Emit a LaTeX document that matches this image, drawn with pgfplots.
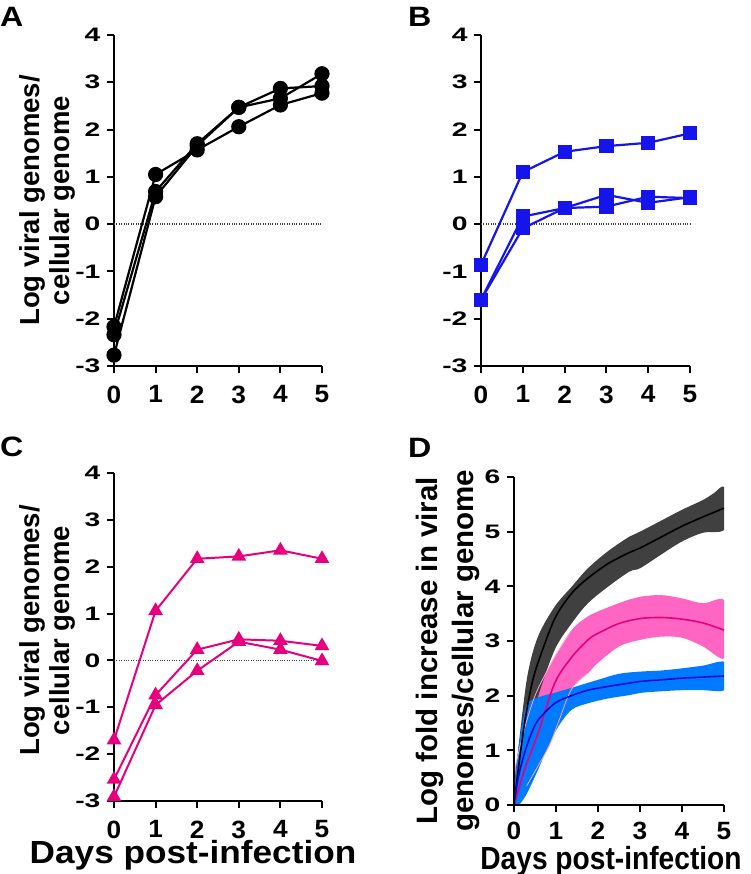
\documentclass[border=0pt]{standalone}
\usepackage{fontspec}
\setmainfont{Liberation Sans}
\newfontfamily\fx{Liberation Sans}[FakeStretch=1.05]
\newfontfamily\fy{Liberation Sans}[FakeStretch=1.45]
\newfontfamily\fl{Liberation Sans}[FakeStretch=1.1]
\newfontfamily\fd{Liberation Sans}[FakeStretch=0.88]
\newfontfamily\fp{Liberation Sans}[FakeStretch=1.15]
\usepackage{pgfplots}
\pgfplotsset{compat=1.18}

\definecolor{bblue}{RGB}{20,20,235}
\definecolor{cpink}{RGB}{230,0,126}
\definecolor{dgray}{RGB}{64,64,64}
\definecolor{dpinkband}{RGB}{255,102,196}
\definecolor{dblueband}{RGB}{0,122,255}
\definecolor{dblue}{RGB}{10,10,215}
\definecolor{pinkedge}{RGB}{255,165,215}

\pgfplotsset{
  panel/.style={
    scale only axis,
    axis lines=left,
    axis line style={-, line width=2pt},
    tick style={black, line width=2pt},
    tick align=outside,
    major tick length=7pt,
    xmin=0, xmax=5, xtick={0,...,5},
    xticklabel style={font=\fx\fontsize{25}{25}\selectfont\bfseries, inner sep=0pt, yshift=-12.5pt},
    yticklabel style={font=\fy\fontsize{19.5}{19.5}\selectfont\bfseries, xshift=-3pt},
    /pgf/number format/assume math mode=true,
    clip=false,
    ylabel style={font=\fontsize{27.5}{30}\selectfont\bfseries, align=center, anchor=center},
    xlabel style={font=\fl\fontsize{32}{32}\selectfont\bfseries, anchor=base, inner sep=0pt},
  },
  zero/.style={dash pattern=on 1pt off 1.4pt, line width=1.3pt, black!75, no marks, forget plot},
  sa/.style={black, line width=2.2pt, mark=*, mark size=6.5pt},
  sb/.style={bblue, line width=2.2pt, mark=square*, mark size=6pt},
  sc/.style={cpink, line width=2pt, mark=triangle*, mark size=6.5pt},
  band/.style={draw=none, smooth, tension=0.55},
}

\begin{document}
\begin{tikzpicture}
\useasboundingbox (0,0) rectangle (750pt,874pt);

% A
\begin{axis}[panel, at={(114pt,508pt)}, anchor=south west,
  width=208pt, height=331pt, ymin=-3, ymax=4, ytick={-3,...,4},
  ylabel={Log viral genomes/\\cellular genome},
  ylabel style={at={(axis description cs:-0.322,0.5)}}]
\addplot[zero] coordinates {(0,0) (5,0)};
\addplot[sa] coordinates {(0,-2.17) (1,1.05) (2,1.57) (3,2.06) (4,2.52) (5,2.77)};
\addplot[sa] coordinates {(0,-2.34) (1,0.69) (2,1.70) (3,2.47) (4,2.87) (5,2.92)};
\addplot[sa] coordinates {(0,-2.77) (1,0.58) (2,1.66) (3,2.47) (4,2.66) (5,3.18)};
\end{axis}

% B
\begin{axis}[panel, at={(481pt,508pt)}, anchor=south west,
  width=209pt, height=331pt, ymin=-3, ymax=4, ytick={-3,...,4}]
\addplot[zero] coordinates {(0,0) (5,0)};
\addplot[sb] coordinates {(0,-0.86) (1,1.10) (2,1.53) (3,1.65) (4,1.72) (5,1.92)};
\addplot[sb] coordinates {(0,-1.60) (1,0.16) (2,0.34) (3,0.62) (4,0.45) (5,0.57)};
\addplot[sb] coordinates {(0,-1.60) (1,-0.09) (2,0.34) (3,0.37) (4,0.58) (5,0.55)};
\end{axis}

% C
\begin{axis}[panel, at={(114pt,73pt)}, anchor=south west,
  width=208pt, height=328pt, ymin=-3, ymax=4, ytick={-3,...,4},
  ylabel={Log viral genomes/\\cellular genome},
  ylabel style={at={(axis description cs:-0.322,0.52)}},
  xlabel={Days post-infection},
  xlabel style={at={(axis description cs:0.38,-0.192)}}]
\addplot[zero] coordinates {(0,0) (5,0)};
\addplot[sc] coordinates {(0,-1.70) (1,1.06) (2,2.17) (3,2.22) (4,2.35) (5,2.17)};
\addplot[sc] coordinates {(0,-2.54) (1,-0.74) (2,0.23) (3,0.45) (4,0.42) (5,0.31)};
\addplot[sc] coordinates {(0,-2.91) (1,-0.95) (2,-0.22) (3,0.40) (4,0.23) (5,-0.01)};
\end{axis}

% D
\begin{axis}[panel, at={(514pt,69pt)}, anchor=south west,
  width=210pt, height=328pt, ymin=0, ymax=6, ytick={0,...,6},
  clip=true, axis on top,
  xticklabel style={yshift=2.5pt},
  ylabel={Log fold increase in viral\\genomes/cellular genome},
  ylabel style={font=\fontsize{29.5}{36}\selectfont\bfseries, at={(axis description cs:-0.315,0.47)}},
  xlabel={Days post-infection},
  xlabel style={font=\fd\fontsize{32}{32}\selectfont\bfseries, at={(axis description cs:0.462,-0.196)}}]
% pink band: upper edge, then lower edge backwards
\addplot[band, fill=dpinkband] coordinates {
  (0,0.6) (0.25,1.4) (0.5,2.0) (0.75,2.4) (1.0,2.75) (1.37,3.2) (1.76,3.45)
  (2.25,3.62) (2.75,3.76) (3.0,3.81) (3.5,3.84) (4.0,3.78) (4.5,3.69) (5,3.75)
  (5.05,3.2) (5,2.68) (4.5,2.9) (4.0,3.06) (3.5,3.08) (3.0,3.02) (2.5,2.9) (2.0,2.6)
  (1.76,2.41) (1.37,2.12) (1.05,1.5) (0.85,1.1) (0.6,0.75) (0.3,0.35) (0.05,0) (0,-0.1)} -- cycle;
% black band
\addplot[band, fill=dgray] coordinates {
  (0,0.3) (0.17,1.49) (0.33,2.41) (0.57,3.08) (0.97,3.63) (1.37,3.99) (1.76,4.33)
  (2.25,4.65) (2.75,4.91) (3.0,5.0) (3.5,5.2) (4.0,5.4) (4.5,5.58) (4.75,5.7) (5,5.82)
  (5.05,5.4) (5,5.03) (4.5,4.98) (4.0,4.82) (3.5,4.58) (3.0,4.33) (2.75,4.27) (2.25,4.0)
  (1.76,3.69) (1.37,3.32) (0.97,2.84) (0.57,1.98) (0.41,1.49) (0.25,0.82) (0.1,0) (0,-0.1)} -- cycle;
% blue band
\addplot[band, fill=dblueband] coordinates {
  (0,0.25) (0.1,1.0) (0.2,1.5) (0.3,1.84) (0.45,1.93) (0.7,2.0) (1.0,2.06)
  (1.44,2.16) (2.0,2.29) (2.5,2.4) (3.0,2.44) (3.5,2.46) (4.0,2.5) (4.5,2.55) (5,2.62)
  (5.05,2.36) (5,2.1) (4.5,2.1) (4.0,2.1) (3.5,2.08) (3.0,2.05) (2.75,2.01) (2.25,1.95)
  (1.76,1.86) (1.37,1.74) (1.05,1.43) (0.81,1.07) (0.57,0.64) (0.3,0.2) (0.12,0) (0,-0.1)} -- cycle;
% faint pink band outlines drawn over the others
\addplot[pinkedge, line width=0.8pt, smooth] coordinates {
  (0,0.6) (0.25,1.4) (0.5,2.0) (0.75,2.4) (1.0,2.75) (1.37,3.2)};
\addplot[pinkedge, line width=0.8pt, smooth] coordinates {
  (0.3,0.35) (0.6,0.75) (0.85,1.1) (1.05,1.5) (1.37,2.12) (1.76,2.41)};
% fitted curves
\addplot[black, line width=1.6pt, smooth] coordinates {
  (0,0) (0.1,0.64) (0.25,1.49) (0.41,2.16) (0.57,2.6) (0.97,3.41) (1.37,3.87)
  (1.76,4.15) (2.25,4.42) (2.75,4.62) (3.0,4.7) (3.5,4.9) (4.0,5.1) (4.5,5.27) (5,5.43)};
\addplot[cpink, line width=1.6pt, smooth] coordinates {
  (0,0) (0.25,0.64) (0.57,1.31) (0.97,2.23) (1.37,2.7) (1.76,3.02) (2.0,3.14)
  (2.5,3.32) (3.0,3.41) (3.5,3.43) (4.0,3.4) (4.5,3.33) (5,3.2)};
\addplot[dblue, line width=1.6pt, smooth] coordinates {
  (0,0) (0.1,0.5) (0.25,0.95) (0.41,1.3) (0.57,1.55) (0.97,1.86) (1.37,2.0)
  (1.76,2.1) (2.25,2.17) (2.75,2.23) (3.0,2.26) (3.5,2.29) (4.0,2.32) (4.5,2.34) (5,2.36)};
\end{axis}

\node[anchor=base west, font=\fp\fontsize{28}{28}\selectfont\bfseries, inner sep=0pt] at (0pt,847pt) {A};
\node[anchor=base west, font=\fp\fontsize{28}{28}\selectfont\bfseries, inner sep=0pt] at (408pt,847pt) {B};
\node[anchor=base west, font=\fp\fontsize{28}{28}\selectfont\bfseries, inner sep=0pt] at (0pt,417pt) {C};
\node[anchor=base west, font=\fp\fontsize{28}{28}\selectfont\bfseries, inner sep=0pt] at (408pt,416pt) {D};
\end{tikzpicture}
\end{document}
